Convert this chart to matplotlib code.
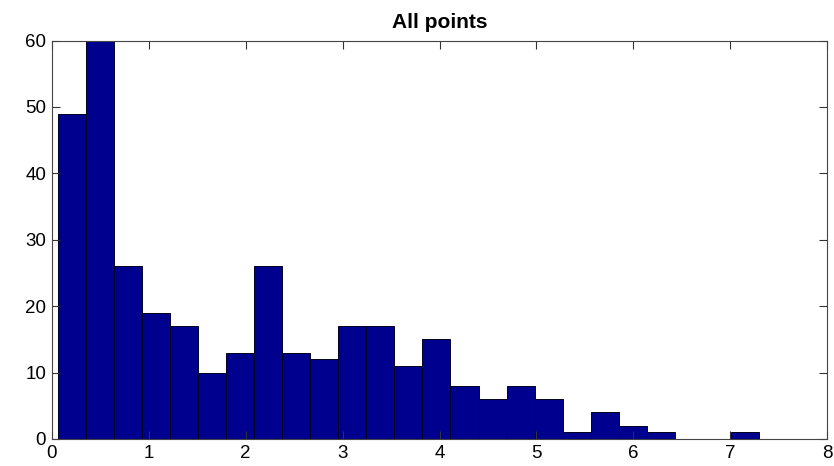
import numpy as np
import matplotlib
matplotlib.use("Agg")
import matplotlib.pyplot as plt

# Histogram counts per bin and the bin layout
counts = [49, 60, 26, 19, 17, 10, 13, 26, 13, 12, 17, 17, 11, 15,
          8, 6, 8, 6, 1, 4, 2, 1, 0, 0, 1]
bin_start = 0.062
bin_end = 7.296
x_ticks = [0, 1, 2, 3, 4, 5, 6, 7, 8]
y_ticks = [0, 10, 20, 30, 40, 50, 60]
title = "All points"

edges = np.linspace(bin_start, bin_end, len(counts) + 1)
centers = 0.5 * (edges[:-1] + edges[1:])

plt.rcParams["font.family"] = ["Liberation Sans", "DejaVu Sans"]

fig = plt.figure(figsize=(8.34, 4.66), dpi=100)
ax = fig.add_axes([0.062, 0.058, 0.930, 0.855])

ax.hist(centers, bins=edges, weights=counts,
        color="#00008E", edgecolor="#000020", linewidth=0.7)

ax.set_xlim(0, 8)
ax.set_ylim(0, 60)
ax.set_xticks(x_ticks)
ax.set_yticks(y_ticks)
ax.tick_params(direction="in", length=6, width=0.8, colors="#333333",
               top=True, right=True, labelsize=13.5, labelcolor="black",
               pad=4)
for s in ax.spines.values():
    s.set_color("#444444")
    s.set_linewidth(0.8)

ax.set_title(title, fontsize=15, fontweight="bold", pad=9)

fig.savefig("out.png", dpi=100)
